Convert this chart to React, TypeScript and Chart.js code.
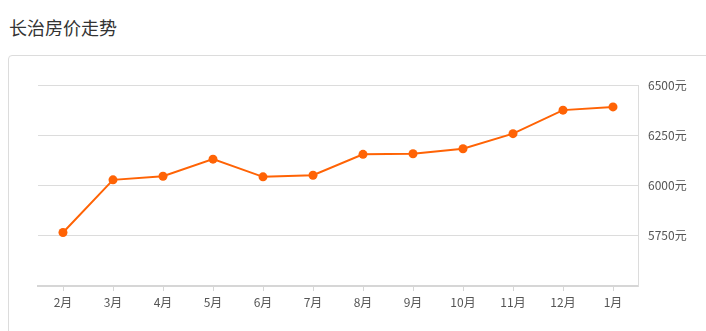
import React, { useEffect, useRef } from "react";
import { Chart, registerables } from "chart.js";

Chart.register(...registerables);

const TITLE = "长治房价走势";
const months = ["2月", "3月", "4月", "5月", "6月", "7月", "8月", "9月", "10月", "11月", "12月", "1月"];
const prices = [5766, 6028, 6046, 6131, 6043, 6051, 6155, 6158, 6183, 6258, 6375, 6391];
const yMin = 5500;
const yMax = 6500;
const yStep = 250;
const unit = "元";

const FONT = '"Noto Sans CJK SC", "Noto Sans", sans-serif';

export default function App() {
  const ref = useRef<HTMLCanvasElement | null>(null);

  useEffect(() => {
    if (!ref.current) return;
    const chart = new Chart(ref.current, {
      type: "line",
      data: {
        labels: months,
        datasets: [
          {
            data: prices,
            borderColor: "#ff6305",
            backgroundColor: "#ff6305",
            borderWidth: 2,
            pointRadius: 4.5,
            pointBorderWidth: 0,
            pointBackgroundColor: "#ff6305",
            tension: 0,
            fill: false,
          },
        ],
      },
      options: {
        responsive: false,
        animation: false,
        maintainAspectRatio: false,
        layout: { padding: { left: 38, top: 85, right: 0, bottom: 0 } },
        plugins: { legend: { display: false }, tooltip: { enabled: false } },
        scales: {
          x: {
            offset: true,
            grid: {
              offset: false,
              drawOnChartArea: false,
              drawTicks: true,
              tickLength: 5,
              color: "#d6d6d6",
            },
            border: { display: true, color: "#d6d6d6", width: 2 },
            ticks: {
              color: "#555",
              font: { size: 12, family: FONT },
              padding: 4,
              maxRotation: 0,
              autoSkip: false,
            },
            afterFit: (s: any) => {
              s.height = 45;
            },
          },
          y: {
            position: "right",
            min: yMin,
            max: yMax,
            grid: { color: "#dcdcdc", drawTicks: false, lineWidth: 1 },
            border: { display: true, color: "#dcdcdc", width: 1 },
            ticks: {
              stepSize: yStep,
              color: "#555",
              padding: 10,
              font: { size: 12, family: FONT },
              callback: (v: any) => (Number(v) === yMin ? "" : `${v}${unit}`),
            },
            afterFit: (s: any) => {
              s.width = 68;
            },
          },
        },
      },
    });
    return () => chart.destroy();
  }, []);

  return (
    <div style={{ position: "absolute", left: 0, top: 0, width: 706, height: 331, overflow: "hidden", background: "#fff" }}>
      <div
        style={{
          position: "absolute",
          left: 9,
          top: 15,
          fontSize: 18,
          lineHeight: "24px",
          color: "#333",
          fontFamily: FONT,
        }}
      >
        {TITLE}
      </div>
      <div
        style={{
          position: "absolute",
          left: 8,
          top: 55,
          width: 740,
          height: 320,
          border: "1px solid #dcdcdc",
          borderRadius: 4,
          boxSizing: "border-box",
        }}
      />
      <canvas ref={ref} width={706} height={331} style={{ position: "absolute", left: 0, top: 0, width: 706, height: 331 }} />
    </div>
  );
}
